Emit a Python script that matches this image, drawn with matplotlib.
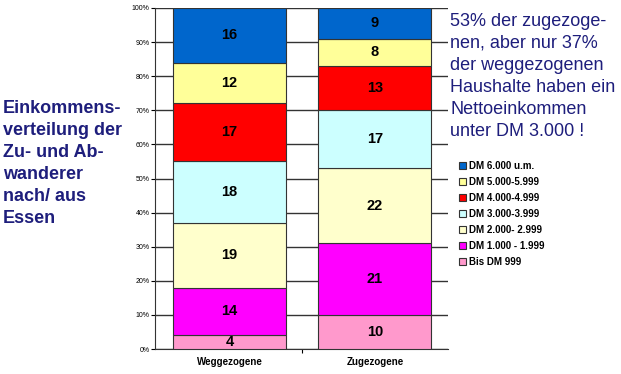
import matplotlib
matplotlib.use("Agg")
import matplotlib.pyplot as plt
import numpy as np

plt.rcParams['font.family'] = ['Liberation Sans', 'DejaVu Sans']

## data
groups = ["Weggezogene", "Zugezogene"]
classes = ["Bis DM 999", "DM 1.000 - 1.999", "DM 2.000- 2.999", "DM 3.000-3.999",
           "DM 4.000-4.999", "DM 5.000-5.999", "DM 6.000 u.m."]
weggezogene = [4, 14, 19, 18, 17, 12, 16]
zugezogene = [10, 21, 22, 17, 13, 8, 9]
colors = ["#FF99CC", "#FF00FF", "#FFFFCC", "#CCFFFF", "#FF0000", "#FFFF99", "#0066CC"]
y_ticks = [0, 10, 20, 30, 40, 50, 60, 70, 80, 90, 100]

navy = "#1E1E7C"

fig = plt.figure(figsize=(6.21, 3.74), dpi=100)
W, H = 621, 374
# axes area in pixels: x 155..448, y 8..349
ax = fig.add_axes([155 / W, 1 - 349 / H, (448 - 155) / W, (349 - 8) / H])

x = np.arange(len(groups))
values = np.array([weggezogene, zugezogene]).T
bottom = np.zeros(len(groups))
bars = []
for i, cls in enumerate(classes):
    b = ax.bar(x, values[i], 0.777, bottom=bottom, color=colors[i],
               edgecolor="#333333", linewidth=0.8, label=cls, zorder=3)
    bars.append(b)
    for xi, v, bt in zip(x, values[i], bottom):
        ax.text(xi, bt + v / 2, str(v), ha="center", va="center",
                fontsize=10.5, fontweight="bold", zorder=4)
    bottom = bottom + values[i]

ax.set_xlim(-0.512, 1.502)
ax.set_ylim(0, 100)
ax.set_yticks(y_ticks)
ax.set_yticklabels([f"{t}%" for t in y_ticks], fontsize=5)
ax.yaxis.grid(True, color="#333333", linewidth=1)
ax.set_axisbelow(True)
ax.set_xticks(x)
ax.set_xticklabels(groups, fontsize=7, fontweight="bold")
ax.tick_params(axis="x", length=0, pad=6)
ax.set_xticks([0.5], minor=True)
ax.tick_params(axis="x", which="minor", length=3, width=0.8)
ax.tick_params(axis="y", length=3, width=0.8, pad=1)
for s in ["top", "right"]:
    ax.spines[s].set_visible(False)
ax.spines["left"].set_color("#333333")
ax.spines["bottom"].set_color("#333333")

# legend (top class first)
handles = [bars[i] for i in range(len(classes))][::-1]
labels = classes[::-1]
fig.legend(handles, labels, loc="upper left", bbox_to_anchor=(452 / W, 1 - 154 / H),
           frameon=False, prop={"weight": "bold", "size": 7},
           handlelength=0.7, handleheight=0.7, handletextpad=0.35,
           labelspacing=0.62, borderpad=0.2)

fig.text(3 / W, 1 - 100 / H,
         "Einkommens-\nverteilung der\nZu- und Ab-\nwanderer\nnach/ aus\nEssen",
         fontsize=13, fontweight="bold", color=navy, ha="left", va="top",
         linespacing=1.38)
fig.text(450 / W, 1 - 13 / H,
         "53% der zugezoge-\nnen, aber nur 37%\nder weggezogenen\nHaushalte haben ein\nNettoeinkommen\nunter DM 3.000 !",
         fontsize=13, color=navy, ha="left", va="top", linespacing=1.38)

fig.savefig("out.png", dpi=100)
